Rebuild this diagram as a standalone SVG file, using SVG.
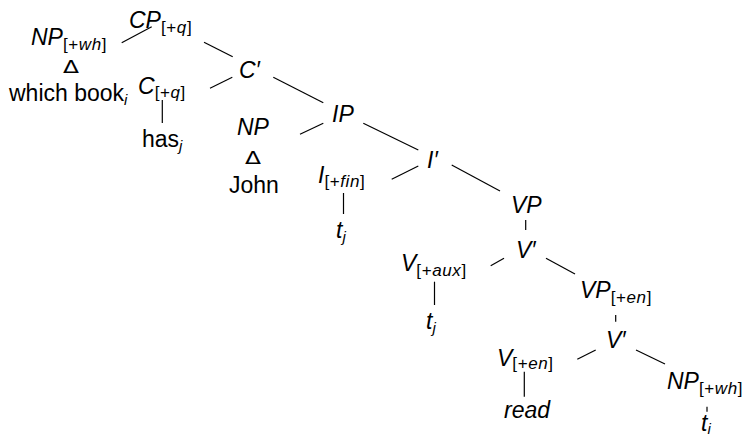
<svg xmlns="http://www.w3.org/2000/svg" width="746" height="437" viewBox="0 0 746 437">
<style>
text{font-family:"Liberation Sans",Arial,sans-serif;fill:#000}
.m{font-size:23px;font-style:italic}
.u{font-size:23px}
.s{font-size:17px;font-style:normal;letter-spacing:0.6px}
.s tspan{font-style:italic}
.x{font-size:15px;font-style:italic}
.d{font-family:"DejaVu Sans",sans-serif;font-size:18px;text-anchor:middle}
#edges line{stroke:#000;stroke-width:1.2}
</style>
<rect width="746" height="437" fill="#fff"/>
<g id="edges">
<line x1="121.7" y1="42.7" x2="151.7" y2="26.7"/>
<line x1="204" y1="42.3" x2="232.7" y2="56.7"/>
<line x1="210" y1="88.3" x2="232.3" y2="77.3"/>
<line x1="162.3" y1="100" x2="162.3" y2="123"/>
<line x1="273.3" y1="77.3" x2="323.3" y2="102.7"/>
<line x1="300" y1="134.3" x2="323.3" y2="123.3"/>
<line x1="363.3" y1="123.3" x2="418.3" y2="150"/>
<line x1="391.7" y1="179.3" x2="418.3" y2="166"/>
<line x1="343.5" y1="193" x2="343.5" y2="214"/>
<line x1="451.7" y1="165" x2="500" y2="191"/>
<line x1="525.7" y1="220" x2="525.7" y2="230"/>
<line x1="490.7" y1="265.7" x2="504" y2="258.3"/>
<line x1="434.5" y1="281.7" x2="434.5" y2="305"/>
<line x1="546" y1="258.3" x2="575" y2="274"/>
<line x1="615.7" y1="315" x2="615.7" y2="321.7"/>
<line x1="577.3" y1="359.3" x2="595.7" y2="350"/>
<line x1="524.3" y1="371.7" x2="524.3" y2="396.7"/>
<line x1="636" y1="350" x2="665" y2="364"/>
<line x1="707" y1="406.7" x2="707" y2="411.7"/>
</g>
<g id="CP">
<text class="m" x="129" y="28">CP<tspan class="s" dy="5">[+<tspan>q</tspan>]</tspan></text>
</g>
<g id="NPwh1">
<text class="m" x="31" y="45">NP<tspan class="s" dy="5">[+<tspan>wh</tspan>]</tspan></text>
<text class="d" transform="translate(71,73) scale(1.3,1)">Δ</text>
<text class="u" x="9" y="101">which book<tspan class="x" dy="4">i</tspan></text>
</g>
<g id="Cbar">
<text class="m" x="239" y="78">C′</text>
</g>
<g id="C">
<text class="m" x="138" y="94">C<tspan class="s" dy="4">[+<tspan>q</tspan>]</tspan></text>
<text class="u" x="142" y="147">has<tspan class="x" dy="4">j</tspan></text>
</g>
<g id="IP">
<text class="m" x="332" y="122">IP</text>
</g>
<g id="NPJohn">
<text class="m" x="237" y="135">NP</text>
<text class="d" transform="translate(253,164) scale(1.3,1)">Δ</text>
<text class="u" x="229" y="193">John</text>
</g>
<g id="I">
<text class="m" x="318" y="183">I<tspan class="s" dy="4">[+<tspan>fin</tspan>]</tspan></text>
<text class="m" x="336" y="238">t<tspan class="x" dy="4">j</tspan></text>
</g>
<g id="Ibar">
<text class="m" x="427" y="168">I′</text>
</g>
<g id="VP">
<text class="m" x="511" y="213">VP</text>
</g>
<g id="Vbar1">
<text class="m" x="516" y="258">V′</text>
</g>
<g id="Vaux">
<text class="m" x="401" y="271">V<tspan class="s" dy="5">[+<tspan>aux</tspan>]</tspan></text>
<text class="m" x="426" y="329">t<tspan class="x" dy="4">j</tspan></text>
</g>
<g id="VPen">
<text class="m" x="580" y="298">VP<tspan class="s" dy="5">[+<tspan>en</tspan>]</tspan></text>
</g>
<g id="Vbar2">
<text class="m" x="606" y="348">V′</text>
</g>
<g id="Ven">
<text class="m" x="497" y="366">V<tspan class="s" dy="3">[+<tspan>en</tspan>]</tspan></text>
<text class="m" x="504" y="418">read</text>
</g>
<g id="NPwh2">
<text class="m" x="667" y="389">NP<tspan class="s" dy="5">[+<tspan>wh</tspan>]</tspan></text>
<text class="m" x="701" y="431">t<tspan class="x" dy="3">i</tspan></text>
</g>
</svg>
